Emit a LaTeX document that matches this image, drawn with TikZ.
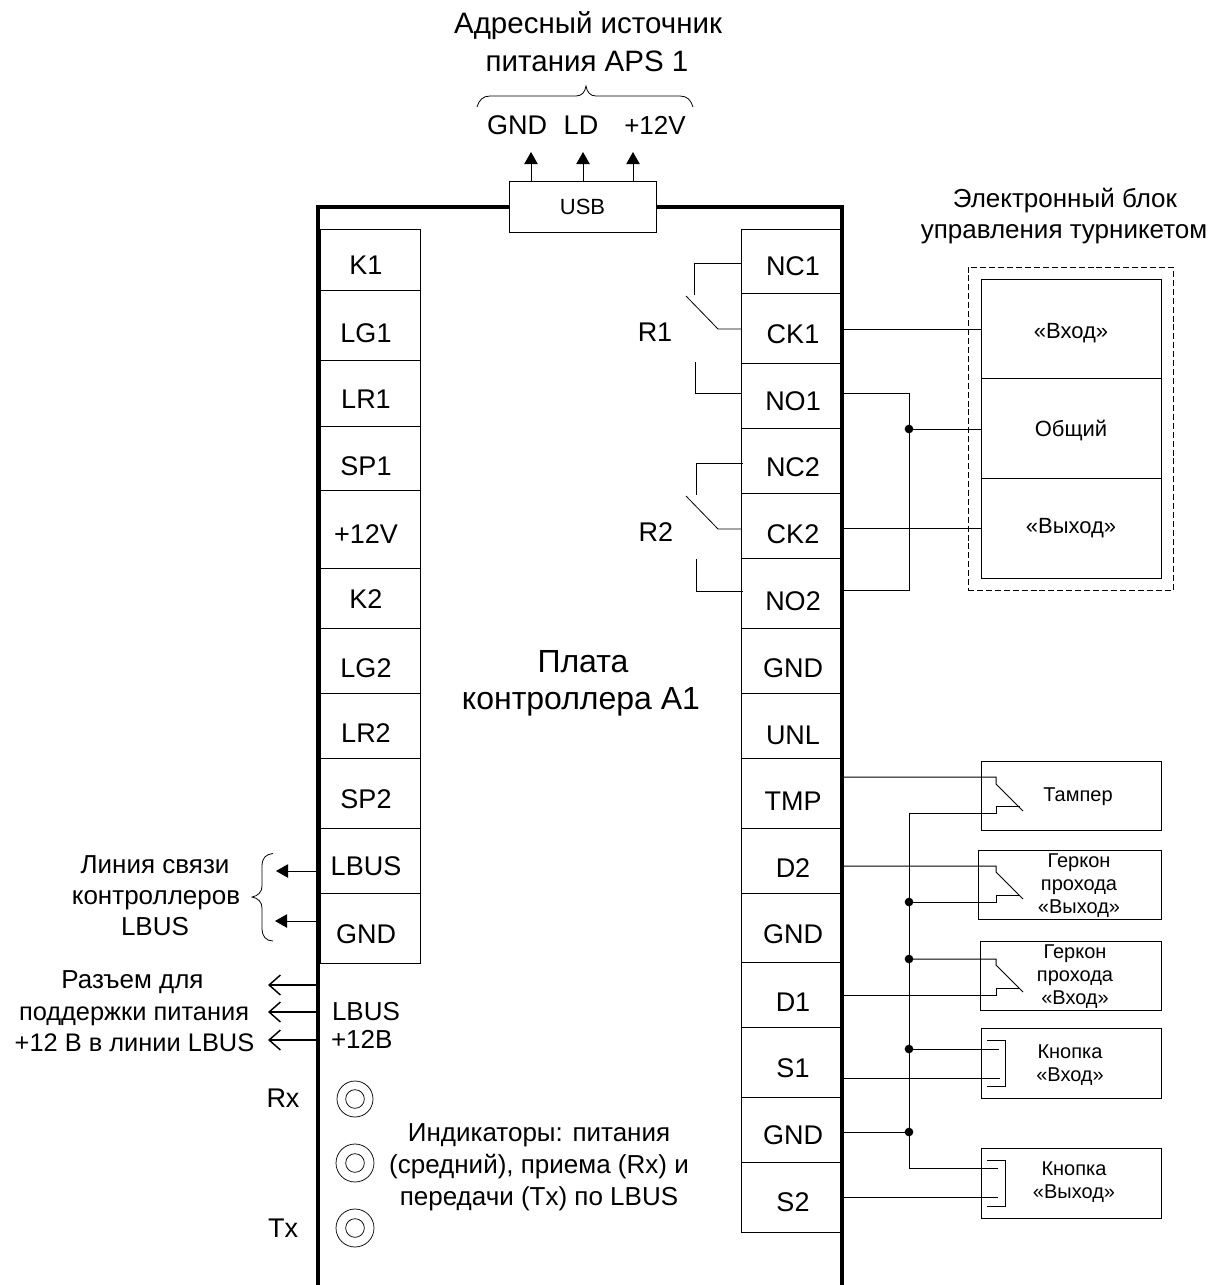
\documentclass[tikz,border=0pt]{standalone}
\usepackage{fontspec}
\setmainfont{Liberation Sans}
\usetikzlibrary{arrows.meta,calc}
\newcommand\px[1]{\fontsize{\fpeval{#1*0.75}pt}{\fpeval{#1*0.9}pt}\selectfont}
\newcommand\lk[1]{\kern-6pt #1}
\newcommand\rk[1]{\kern3pt #1}
\newcommand\ml[2]{\parbox[t]{90pt}{\centering\baselineskip=#1pt #2}}
\newcommand\cellbox[8][]{%
  \pgfmathsetmacro\cW{(#4-#3)*0.75}%
  \pgfmathsetmacro\cH{(#7-#5)*0.75}%
  \pgfmathsetmacro\cD{(#6-#7)*0.75}%
  \node[cell,#1,minimum width=\cW pt,text height=\cH pt,text depth=\cD pt,anchor=north west] (#2) at (#3,#5) {#8};}
\tikzset{
  cell/.style={draw=black,line width=0.75pt,fill=white,inner sep=0pt,outer sep=0pt,font=\px{27}},
  small/.style={font=\px{22}},
  tiny/.style={font=\px{20}},
  lab/.style={inner sep=0pt,outer sep=0pt,anchor=base,font=\px{27}},
  lab26/.style={lab,font=\px{26}},
  lab25/.style={lab,font=\px{25.4}},
  lab29/.style={lab,font=\px{29.5}},
  lab32/.style={lab,font=\px{32}},
  wire/.style={draw=black,line width=0.75pt},
  thin wire/.style={draw=black,line width=0.6pt},
  frameline/.style={draw=black,line width=3pt},
  fat/.style={wire,-{Triangle[length=9pt,width=10pt]}},
  barb/.style={draw=black,line width=1.1pt,-{Straight Barb[length=8.5pt,width=15pt,line width=1.1pt]}},
  dotn/.style={circle,fill=black,inner sep=0pt,outer sep=0pt,minimum size=6.5pt},
  led/.style={circle,draw=black,line width=0.55pt,inner sep=0pt,outer sep=0pt},
  dashbox/.style={draw=black,line width=0.7pt,dash pattern=on 4.5pt off 2.2pt,inner sep=0pt,outer sep=0pt,anchor=north west}
}
\begin{document}
\begin{tikzpicture}[x=0.75pt,y=-0.75pt]
\useasboundingbox (0,0) rectangle (1219,1285);
% ---- left terminal column
\cellbox{lK1}{320}{420}{229}{290}{274}{\lk{K1}}
\cellbox{lLG1}{320}{420}{290}{360}{342}{\lk{LG1}}
\cellbox{lLR1}{320}{420}{360}{426}{408}{\lk{LR1}}
\cellbox{lSP1}{320}{420}{426}{490}{475}{\lk{SP1}}
\cellbox{lV12}{320}{420}{490}{568}{543}{\lk{+12V}}
\cellbox{lK2}{320}{420}{568}{628}{608}{\lk{K2}}
\cellbox{lLG2}{320}{420}{628}{693}{677}{\lk{LG2}}
\cellbox{lLR2}{320}{420}{693}{758}{742}{\lk{LR2}}
\cellbox{lSP2}{320}{420}{758}{828}{808}{\lk{SP2}}
\cellbox{lLBUS}{320}{420}{828}{893}{875}{\lk{LBUS}}
\cellbox{lGND}{320}{420}{893}{963}{943}{\lk{GND}}
% ---- right terminal column
\cellbox{rNCa}{741}{841}{229}{293}{275}{\rk{NC1}}
\cellbox{rCKa}{741}{841}{293}{363}{343}{\rk{CK1}}
\cellbox{rNOa}{741}{841}{363}{428}{410}{\rk{NO1}}
\cellbox{rNCb}{741}{841}{428}{493}{476}{\rk{NC2}}
\cellbox{rCKb}{741}{841}{493}{558}{543}{\rk{CK2}}
\cellbox{rNOb}{741}{841}{558}{628}{610}{\rk{NO2}}
\cellbox{rGNDa}{741}{841}{628}{693}{677}{\rk{GND}}
\cellbox{rUNL}{741}{841}{693}{758}{744}{\rk{UNL}}
\cellbox{rTMP}{741}{841}{758}{828}{810}{\rk{TMP}}
\cellbox{rDb}{741}{841}{828}{893}{877}{\rk{D2}}
\cellbox{rGNDb}{741}{841}{893}{962}{943}{\rk{GND}}
\cellbox{rDa}{741}{841}{962}{1027}{1011}{\rk{D1}}
\cellbox{rSa}{741}{841}{1027}{1097}{1077}{\rk{S1}}
\cellbox{rGNDc}{741}{841}{1097}{1162}{1144}{\rk{GND}}
\cellbox{rSb}{741}{841}{1162}{1232}{1211}{\rk{S2}}
% ---- USB + frame
\cellbox[small]{usb}{509}{656}{181}{232}{214}{USB}
\draw[frameline] (318,1285) -- (318,206.5) -- (usb.west);
\draw[frameline] (usb.east) -- (842,206.5) -- (842,1285);
% ---- top labels
\node[lab29] (tAddrA) at (588,33) {Адресный источник};
\node[lab29] (tAddrB) at (587,71) {питания APS 1};
\node[lab] (tGND) at (517,134) {GND};
\node[lab] (tLD) at (581,134) {LD};
\node[lab26] (tV12) at (655,134) {+12V};
\coordinate (uA) at (531,181);
\coordinate (uB) at (583,181);
\coordinate (uC) at (633,181);
\coordinate (uAe) at (531,152);
\coordinate (uBe) at (583,152);
\coordinate (uCe) at (633,152);
\draw[fat] (uA) -- (uAe);
\draw[fat] (uB) -- (uBe);
\draw[fat] (uC) -- (uCe);
\draw[thin wire] (477,107) .. controls (479,100) and (483,96) .. (490,96) -- (576,96)
   .. controls (582,96) and (585,92) .. (586,86) .. controls (587,92) and (590,96) .. (596,96)
   -- (680,96) .. controls (687,96) and (691,100) .. (693,107);
% ---- centre labels
\node[lab32] (tBoardA) at (583,672) {Плата};
\node[lab32] (tBoardB) at (581,709) {контроллера A1};
\node[lab] (tRa) at (655,341) {R1};
\node[lab] (tRb) at (656,541) {R2};
% ---- relays
\coordinate (nca) at (741,263); \coordinate (ncaE) at (694,295);
\coordinate (cka) at (741,329); \coordinate (ckaB) at (718,329); \coordinate (ckaT) at (686,296);
\coordinate (noa) at (741,393); \coordinate (noaE) at (695,362);
\coordinate (ncb) at (743,463); \coordinate (ncbE) at (696,495);
\coordinate (ckb) at (741,529); \coordinate (ckbB) at (718,529); \coordinate (ckbT) at (686,496);
\coordinate (nob) at (743,591); \coordinate (nobE) at (696,559);
\draw[wire] (nca) -| (ncaE);
\draw[thin wire] (ckaT) -- (ckaB) -- (cka);
\draw[wire] (noa) -| (noaE);
\draw[wire] (ncb) -| (ncbE);
\draw[thin wire] (ckbT) -- (ckbB) -- (ckb);
\draw[wire] (nob) -| (nobE);
% ---- turnstile block
\node[lab26] (tBlockA) at (1065,207) {Электронный блок};
\node[lab26] (tBlockB) at (1064,238) {управления турникетом};
\node[dashbox,minimum width=153.75pt,minimum height=242.25pt] (dash) at (968,267) {};
\cellbox[small]{bIn}{981}{1161}{279}{378}{338}{«Вход»}
\cellbox[small]{bCom}{981}{1161}{378}{478}{436}{Общий}
\cellbox[small]{bOut}{981}{1161}{478}{578}{533}{«Выход»}
\coordinate (oCKa) at (844,329);
\coordinate (oNOa) at (844,393);
\coordinate (oCKb) at (844,528);
\coordinate (oNOb) at (844,590);
\node[dotn] (jCom) at (909,429) {};
\draw[wire] (oCKa) -- (oCKa -| bIn.west);
\draw[wire] (oCKb) -- (oCKb -| bOut.west);
\draw[wire] (oNOa) -| (jCom.center) |- (oNOb);
\draw[wire] (jCom.center) -- (jCom -| bCom.west);
% ---- lower right devices
\cellbox[tiny]{dTamp}{981}{1161}{761}{830}{801}{\kern10.5pt Тампер}
\cellbox[tiny]{dRb}{978}{1161}{850}{919}{867}{\kern14.25pt\ml{17.6}{Геркон\\прохода\\«Выход»}}
\cellbox[tiny]{dRa}{980}{1161}{941}{1010}{958}{\kern6.75pt\ml{17.6}{Геркон\\прохода\\«Вход»}}
\cellbox[tiny]{dBa}{981}{1161}{1028}{1098}{1058}{\kern-1.5pt\ml{17.6}{Кнопка\\«Вход»}}
\cellbox[tiny]{dBb}{981}{1161}{1148}{1218}{1175}{\kern4.5pt\ml{17.6}{Кнопка\\«Выход»}}
\coordinate (oTMP) at (844,777);
\coordinate (oDb) at (844,866);
\coordinate (oDa) at (844,995);
\coordinate (oSa) at (844,1078);
\coordinate (oGND) at (844,1132);
\coordinate (oSb) at (844,1197);
\coordinate (busTop) at (909,813);
\coordinate (busEnd) at (909,1168);
\node[dotn] (jDb) at (909,902) {};
\node[dotn] (jDa) at (909,959) {};
\node[dotn] (jBa) at (909,1049) {};
\node[dotn] (jG) at (909,1132) {};
\draw[wire] (busTop) -- (busEnd);
% tamper
\draw[wire] (oTMP) -- (996,777) -- (996,784) -- (1023,811);
\draw[wire] (busTop) -- (996,813) -- (996,806) -- (1020,806);
% reed out
\draw[wire] (oDb) -- (996,866) -- (996,872) -- (1023,899);
\draw[wire] (jDb.center) -- (996,902) -- (996,895) -- (1020,895);
% reed in
\draw[wire] (jDa.center) -- (996,959) -- (996,965) -- (1023,992);
\draw[wire] (oDa) -- (996,995) -- (996,988) -- (1020,988);
% buttons
\draw[wire] (jBa.center) -- (999,1049);
\draw[wire] (oSa) -- (1000,1078);
\draw[wire] (987,1040) -- (1005,1040) -- (1005,1086) -- (987,1086);
\draw[wire] (oGND) -- (jG.center);
\draw[wire] (busEnd) -- (998,1168);
\draw[wire] (oSb) -- (998,1197);
\draw[wire] (987,1160) -- (1005,1160) -- (1005,1206) -- (987,1206);
% ---- lower left
\coordinate (aLB) at (318,871); \coordinate (aLBe) at (276,871);
\coordinate (aGN) at (318,921); \coordinate (aGNe) at (275,921);
\draw[fat] (aLB) -- (aLBe);
\draw[fat] (aGN) -- (aGNe);
\draw[thin wire] (273,853.5) .. controls (266,854) and (262,858) .. (262,866) -- (262,886)
  .. controls (262,892) and (258,896) .. (252,897) .. controls (258,898) and (262,902) .. (262,908)
  -- (262,929) .. controls (262,936) and (266,941) .. (273,941);
\node[lab26] (tLinkA) at (155,873) {Линия связи};
\node[lab26] (tLinkB) at (156,904) {контроллеров};
\node[lab26] (tLinkC) at (155,935) {LBUS};
\node[lab26] (tConA) at (132.5,988) {Разъем для};
\node[lab25] (tConB) at (134,1020) {поддержки питания};
\node[lab25] (tConC) at (134.5,1051) {+12 В в линии LBUS};
\coordinate (cA) at (318,985); \coordinate (cAe) at (268,985);
\coordinate (cB) at (318,1012); \coordinate (cBe) at (268,1012);
\coordinate (cC) at (318,1040); \coordinate (cCe) at (268,1040);
\draw[barb] (cA) -- (cAe);
\draw[barb] (cB) -- (cBe);
\draw[barb] (cC) -- (cCe);
\node[lab26,anchor=base west] (tLBa) at (332,1020) {LBUS};
\node[lab26,anchor=base west] (tLBb) at (331,1048) {+12В};
\node[lab] (tRx) at (283,1107) {Rx};
\node[lab] (tTx) at (283,1237) {Tx};
\node[led,minimum size=27pt] (ledAo) at (355,1099) {};
\node[led,minimum size=14pt] (ledAi) at (355,1099) {};
\node[led,minimum size=28.5pt] (ledBo) at (355,1163) {};
\node[led,minimum size=14pt] (ledBi) at (355,1163) {};
\node[led,minimum size=28.5pt] (ledCo) at (355,1228) {};
\node[led,minimum size=14pt] (ledCi) at (355,1228) {};
\node[lab26] (tIndA) at (539,1141) {Индикаторы: питания};
\node[lab26] (tIndB) at (539,1173) {(средний), приема (Rx) и};
\node[lab26] (tIndC) at (539,1205) {передачи (Tx) по LBUS};
\end{tikzpicture}
\end{document}
